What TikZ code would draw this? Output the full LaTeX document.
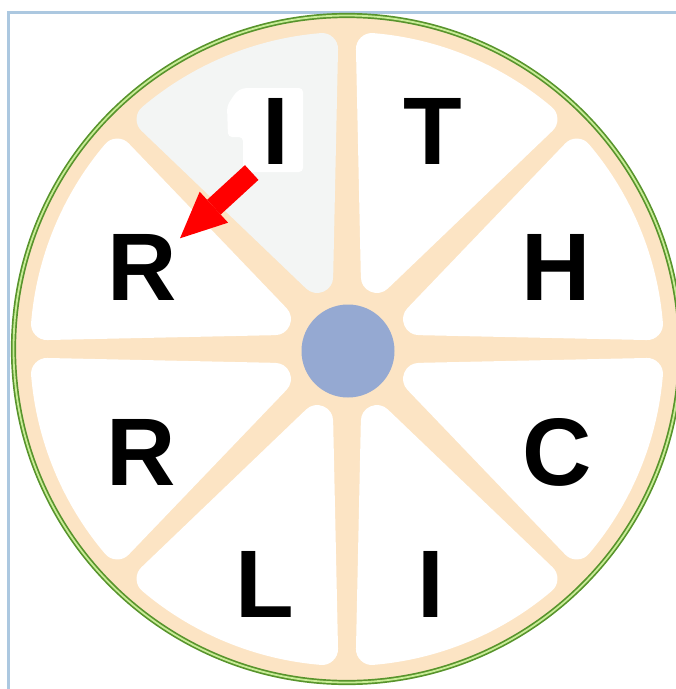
\documentclass[tikz,border=0pt]{standalone}
\usepackage{fontspec}
\setmainfont{Liberation Sans}
\usetikzlibrary{arrows.meta}
\definecolor{framecol}{RGB}{172,200,224}
\definecolor{peach}{RGB}{252,228,196}
\definecolor{rimdark}{RGB}{88,148,44}
\definecolor{rimlight}{RGB}{200,236,150}
\definecolor{hubcol}{RGB}{149,169,210}
\definecolor{greycell}{RGB}{243,245,244}
\definecolor{arrowred}{RGB}{255,0,0}
\begin{document}
\begin{tikzpicture}[x=1pt,y=-1pt,
  letter/.style={font={\fontsize{96}{96}\selectfont\bfseries}, inner sep=0pt, text=black},
  cell/.style={fill=#1, draw=#1, line width=32pt, line join=round},
  rim/.style={draw=rimdark, line width=1.7pt, double=rimlight, double distance=1.8pt},
  blockarrow/.style={draw=arrowred, line width=20pt, -{Triangle[width=42pt,length=46pt,line width=0pt]}}]
\useasboundingbox (0,0) rectangle (676,689);
\clip (0,0) rectangle (676,689);
\fill[white] (0,0) rectangle (676,689);
\draw[framecol, line width=2.5pt] (8.5,12.5) rectangle (720,730);
% wheel
\fill[peach] (347,349) circle[radius=334];
\begin{scope}[shift={(347,349)}]
\foreach \a in {0,45,...,315}{
  \pgfmathsetmacro{\s}{\a+4.76}
  \pgfmathsetmacro{\e}{\a+45-4.76}
  \pgfmathsetmacro{\m}{\a+22.5}
  \ifnum\a=225
    \path[cell=greycell] (\m:78) -- (\s:301) arc[start angle=\s, end angle=\e, radius=301] -- cycle;
  \else
    \path[cell=white] (\m:78) -- (\s:301) arc[start angle=\s, end angle=\e, radius=301] -- cycle;
  \fi
}
\end{scope}
\draw[rim] (347,349) circle[radius=333.5];
\node[circle, fill=hubcol, minimum size=93pt, inner sep=0pt] (hub) at (348,351) {};
% white backdrop behind the top I
\fill[white, rounded corners=4pt] (243,88) -- (303,88) -- (303,172) -- (243,172) -- (243,137) -- (228,137) -- (227,106) -- (236,92) -- cycle;
% letters
\node[letter] (I1) at (276,131) {I};
\node[letter] (T) at (433,131) {T};
\node[letter] (H) at (556,267) {H};
\node[letter] (C) at (557,452) {C};
\node[letter] (I2) at (431,584) {I};
\node[letter] (L) at (265,584) {L};
\node[letter] (R2) at (141,452) {R};
\node[letter] (R1) at (142,267) {R};
% arrow
\coordinate (arrtail) at (251.7,172.5);
\coordinate (arrtip) at (180,238.3);
\draw[blockarrow] (arrtail) -- (arrtip);
\end{tikzpicture}
\end{document}
